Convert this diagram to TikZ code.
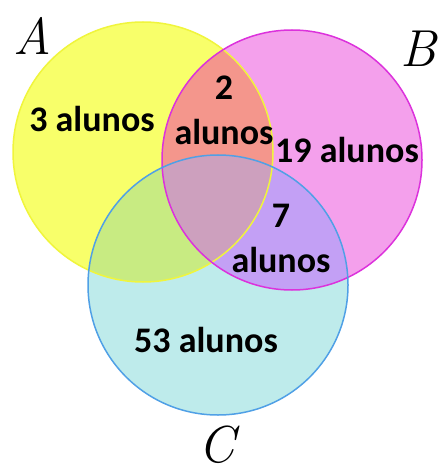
\documentclass[tikz,border=0pt]{standalone}
\usepackage{fontspec}
\newfontfamily\countfont{Carlito}
\usepackage{tikz}
\usetikzlibrary{positioning}

\definecolor{fillA}{RGB}{248,255,106}
\definecolor{fillB}{RGB}{244,160,236}
\definecolor{fillC}{RGB}{190,235,235}
\definecolor{fillAB}{RGB}{244,150,140}
\definecolor{fillAC}{RGB}{200,235,130}
\definecolor{fillBC}{RGB}{195,160,245}
\definecolor{fillABC}{RGB}{205,160,190}
\definecolor{lineA}{RGB}{240,245,60}
\definecolor{lineB}{RGB}{220,50,220}
\definecolor{lineC}{RGB}{80,160,230}

\begin{document}
\begin{tikzpicture}[x=1pt,y=-1pt,
    count/.style={font=\countfont\bfseries\fontsize{36}{45}\selectfont, align=center, inner sep=0pt},
    setname/.style={font=\itshape\fontsize{52}{52}\selectfont, inner sep=0pt}]
    \useasboundingbox (0,0) rectangle (440,473);
    \fill[white] (0,0) rectangle (440,473);

    % centres
    \coordinate (cA) at (143,152);
    \coordinate (cB) at (292,160);
    \coordinate (cC) at (218,285);

    % regions
    \fill[fillA] (cA) circle (130pt);
    \fill[fillB] (cB) circle (130pt);
    \fill[fillC] (cC) circle (130pt);
    \begin{scope}
        \clip (cA) circle (130pt);
        \fill[fillAB] (cB) circle (130pt);
        \fill[fillAC] (cC) circle (130pt);
    \end{scope}
    \begin{scope}
        \clip (cB) circle (130pt);
        \fill[fillBC] (cC) circle (130pt);
    \end{scope}
    \begin{scope}
        \clip (cA) circle (130pt);
        \clip (cB) circle (130pt);
        \fill[fillABC] (cC) circle (130pt);
    \end{scope}

    % outlines
    \draw[lineA, line width=1.5pt] (cA) circle (130pt);
    \draw[lineB, line width=1.5pt] (cB) circle (130pt);
    \draw[lineC, line width=1.5pt] (cC) circle (130pt);

    % set names
    \node[setname] (nameA) at (32,36) {A};
    \node[setname] (nameB) at (418,49) {B};
    \node[setname] (nameC) at (217,445) {C};

    % counts
    \node[count, anchor=base] (onlyA) at (92,132) {3 alunos};
    \node[count, anchor=base] (onlyAB) at (224,145) {2\\alunos};
    \node[count, anchor=base] (onlyB) at (347,163) {19 alunos};
    \node[count, anchor=base] (onlyBC) at (281,272) {7\\alunos};
    \node[count, anchor=base] (onlyC) at (206,352) {53 alunos};
\end{tikzpicture}
\end{document}
